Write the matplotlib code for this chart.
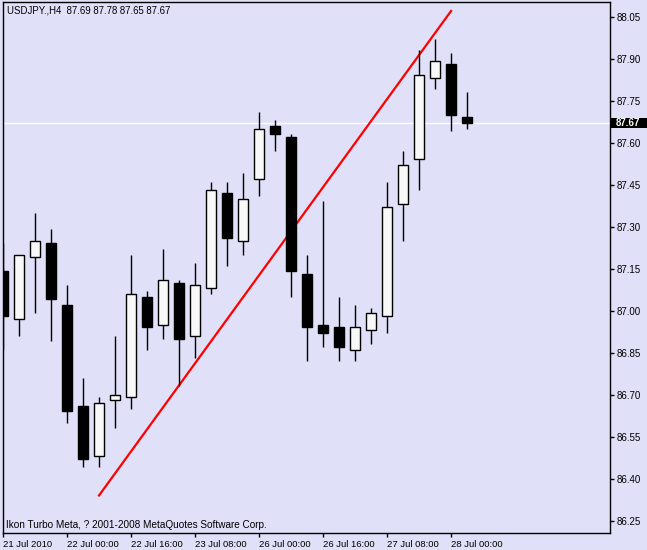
import numpy as np
import pandas as pd
import matplotlib
matplotlib.use('Agg')
import matplotlib.pyplot as plt
from matplotlib.patches import Rectangle
from matplotlib.transforms import blended_transform_factory

plt.rcParams['font.family'] = ['Liberation Sans Narrow', 'Liberation Sans', 'DejaVu Sans']

# H4 bars, weekend skipped
times = pd.date_range('2010-07-21 08:00', '2010-07-28 04:00', freq='4h')
times = times[times.dayofweek < 5]

opens = [87.14, 86.97, 87.19, 87.24, 87.02, 86.66, 86.48, 86.68, 86.69, 87.05,
         86.95, 87.10, 86.91, 87.08, 87.42, 87.25, 87.47, 87.66, 87.62, 87.13,
         86.95, 86.94, 86.86, 86.93, 86.98, 87.38, 87.54, 87.83, 87.88, 87.69]
highs = [87.24, 87.20, 87.35, 87.29, 87.09, 86.76, 86.69, 86.91, 87.20, 87.07,
         87.22, 87.11, 87.17, 87.46, 87.46, 87.49, 87.71, 87.68, 87.63, 87.20,
         87.39, 87.05, 87.02, 87.01, 87.46, 87.57, 87.93, 87.97, 87.92, 87.78]
lows = [86.86, 86.91, 86.99, 86.89, 86.60, 86.44, 86.44, 86.58, 86.65, 86.86,
        86.90, 86.73, 86.83, 87.06, 87.16, 87.20, 87.41, 87.57, 87.05, 86.82,
        86.87, 86.82, 86.82, 86.88, 86.92, 87.25, 87.43, 87.79, 87.64, 87.65]
closes = [86.98, 87.20, 87.25, 87.04, 86.64, 86.47, 86.67, 86.70, 87.06, 86.94,
          87.11, 86.90, 87.09, 87.43, 87.26, 87.40, 87.65, 87.63, 87.14, 86.94,
          86.92, 86.87, 86.94, 86.99, 87.37, 87.52, 87.84, 87.89, 87.70, 87.67]

# trendline drawn on the chart (bar index, price)
trend_bars = [6, 28]
trend_prices = [86.34, 88.07]

xtick_bars = [0, 4, 8, 12, 16, 20, 24, 28]
xtick_labels = ['21 Jul 2010', '22 Jul 00:00', '22 Jul 16:00', '23 Jul 08:00',
                '26 Jul 00:00', '26 Jul 16:00', '27 Jul 08:00', '28 Jul 00:00']
yticks = [86.25, 86.40, 86.55, 86.70, 86.85, 87.00, 87.15, 87.30,
          87.45, 87.60, 87.75, 87.90, 88.05]

bg = '#e0e0f8'
fig = plt.figure(figsize=(6.47, 5.5), dpi=100, facecolor=bg)
ax = fig.add_axes([2.5 / 647, 1 - 533.3 / 550, 607 / 647, 531 / 550])
ax.set_facecolor(bg)

x = np.arange(len(times))
body_w = 0.65
for i in x:
    o, h, l, c = opens[i], highs[i], lows[i], closes[i]
    ax.vlines(i, l, h, color='black', lw=1, zorder=3)
    fc = '#f8f8f8' if c >= o else 'black'
    ax.add_patch(Rectangle((i - body_w / 2, min(o, c)), body_w, abs(c - o),
                           facecolor=fc, edgecolor='black', lw=1, zorder=4))

ax.plot(trend_bars, trend_prices, color='red', lw=1.6, zorder=2)

last = closes[-1]
ax.axhline(last, color='white', lw=1, zorder=1)

ax.set_xlim(-0.03, 37.9)
ax.set_ylim(86.205, 88.101)

for s in ax.spines.values():
    s.set_color('black')
    s.set_linewidth(1)

ax.yaxis.tick_right()
ax.set_yticks(yticks)
ax.set_yticklabels([f'{v:.2f}' for v in yticks])
ax.tick_params(axis='y', direction='out', length=3, width=1, pad=2.2, labelsize=7)

ax.set_xticks(xtick_bars)
ax.set_xticklabels(xtick_labels, ha='left')
ax.tick_params(axis='x', direction='out', length=3, width=1, pad=1.5, labelsize=6.8)

# current price box on the price scale
tr = blended_transform_factory(ax.transAxes, ax.transData)
ax.add_patch(Rectangle((1.003, last - 0.017), 0.07, 0.034, transform=tr,
                       facecolor='black', edgecolor='none', clip_on=False, zorder=5))
ax.text(1.0099, last, f'{last:.2f}', transform=tr, color='white', fontsize=7,
        fontweight='bold', ha='left', va='center', zorder=6)

ax.text(0.0079, 0.984, 'USDJPY.,H4  %.2f %.2f %.2f %.2f' % (opens[-1], highs[-1], lows[-1], closes[-1]),
        transform=ax.transAxes, fontsize=6.9, ha='left', va='center', color='black')
ax.text(0.006, 0.0156, 'Ikon Turbo Meta, ? 2001-2008 MetaQuotes Software Corp.',
        transform=ax.transAxes, fontsize=7.2, ha='left', va='center', color='black')

fig.savefig('out.png', dpi=100, facecolor=bg)
